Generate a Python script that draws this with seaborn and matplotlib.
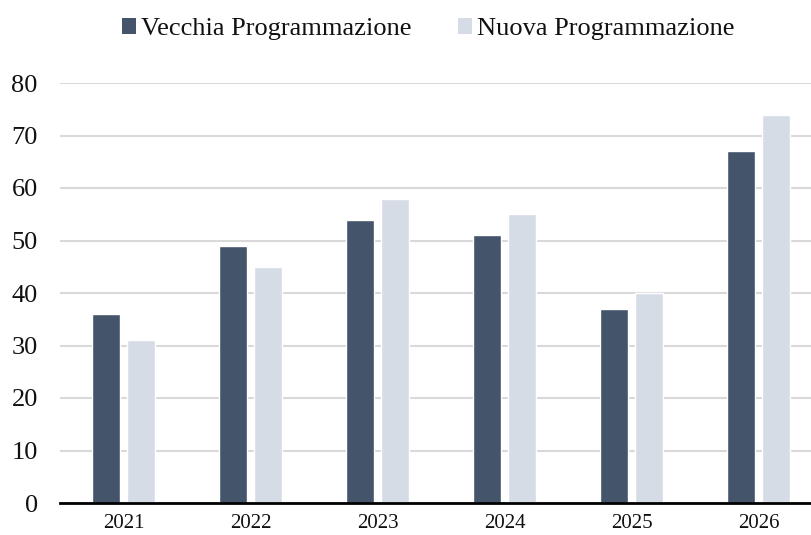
import matplotlib
matplotlib.use("Agg")
import matplotlib.pyplot as plt
import seaborn as sns
import pandas as pd
from matplotlib.patches import Patch

years = ["2021", "2022", "2023", "2024", "2025", "2026"]
vecchia = [36, 49, 54, 51, 37, 67]
nuova = [31, 45, 58, 55, 40, 74]
series_names = ["Vecchia Programmazione", "Nuova Programmazione"]
yticks = [0, 10, 20, 30, 40, 50, 60, 70, 80]

colors = ["#44546a", "#d6dce5"]

df = pd.DataFrame({
    "anno": years * 2,
    "valore": vecchia + nuova,
    "serie": [series_names[0]] * len(years) + [series_names[1]] * len(years),
})

sns.set_theme(style="white")
plt.rcParams["font.family"] = ["Liberation Serif", "DejaVu Serif"]

W, H = 811, 535
fig = plt.figure(figsize=(W / 100, H / 100), dpi=100)
ax = fig.add_axes([60 / W, 32 / H, 762 / W, 420 / H])

sns.barplot(data=df, x="anno", y="valore", hue="serie", order=years,
            hue_order=series_names, palette=colors, width=0.556, gap=0.21,
            saturation=1, legend=False, ax=ax)

ax.set_ylim(0, 80)
ax.set_xlim(-0.5, 5.5)
ax.set_yticks(yticks)
ax.set_yticklabels([str(t) for t in yticks], fontsize=19)
ax.yaxis.grid(True, color="#d9d9d9", linewidth=1.5)
ax.set_axisbelow(True)
ax.set_xlabel("")
ax.set_ylabel("")
ax.tick_params(axis="y", length=0, pad=16, labelcolor="#111111")
ax.tick_params(axis="x", length=0, pad=8, labelsize=15, labelcolor="#111111")
for side in ["left", "right", "top"]:
    ax.spines[side].set_visible(False)
ax.spines["bottom"].set_color("black")
ax.spines["bottom"].set_linewidth(2)

handles = [Patch(facecolor=c, edgecolor="none") for c in colors]
fig.legend(handles, series_names, loc="center", bbox_to_anchor=(428 / W, 1 - 29 / H),
           ncol=2, frameon=False, fontsize=19, handlelength=0.55, handleheight=0.6,
           handletextpad=0.18, columnspacing=1.75, labelcolor="#111111")

fig.savefig("out.png", dpi=100)
